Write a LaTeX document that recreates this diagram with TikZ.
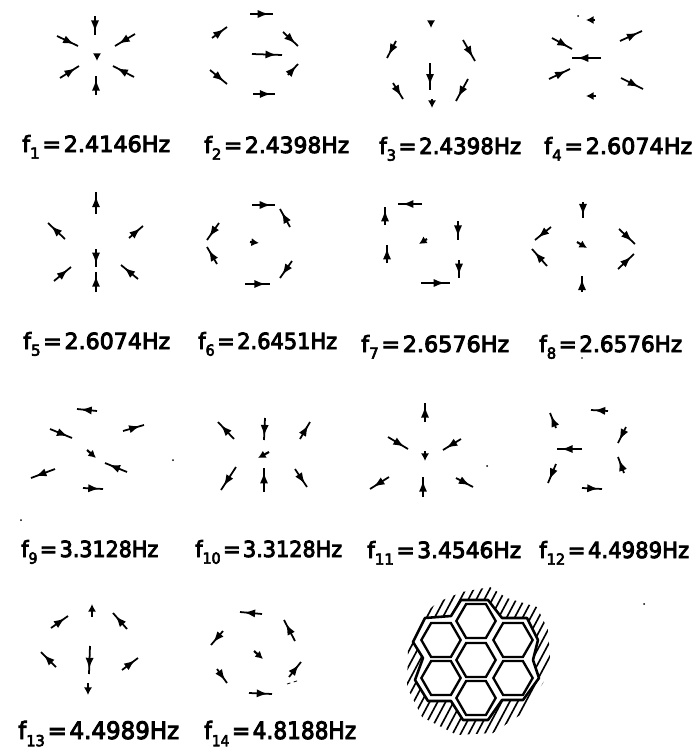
\documentclass[tikz,border=0pt]{standalone}
\usepackage{fontspec}
\usepackage{tikz}
\usetikzlibrary{shapes.geometric, arrows.meta, decorations.markings}
\newfontfamily\labfont[FakeBold=4]{DejaVu Sans}
\newlength{\pxu}
\setlength{\pxu}{0.03cm}
\newcommand{\flabel}[3]{\resizebox{#3\pxu}{\height}{f\raisebox{-0.3em}{\fontsize{13}{13}\selectfont #1}\kern0.12em=\kern0.12em#2Hz}}
\tikzstyle{vec} = [line width=1.5pt, postaction={decorate}, decoration={markings,
  mark=at position 0.82 with {\arrow{Latex[length=9.5pt,width=7pt]}}}]
\tikzstyle{tinyvec} = [line width=1.8pt, -{Latex[length=6.5pt,width=7pt]}]
\tikzstyle{flab} = [anchor=base west, inner sep=0pt, font=\labfont\fontsize{19}{19}\selectfont]
\tikzstyle{flabbig} = [anchor=base west, inner sep=0pt, font=\labfont\fontsize{20.5}{20.5}\selectfont]
\tikzstyle{hexcell} = [regular polygon, regular polygon sides=6, minimum size=1.18cm, inner sep=0pt,
  draw=black, fill=white, line width=2pt]

\begin{document}
\begin{tikzpicture}[x=0.03cm, y=-0.03cm]
  \useasboundingbox (0,0) rectangle (698,755);

  % f1
  \draw[vec] (95,16) -- (95,35);
  \draw[vec] (135,34) -- (115,46);
  \draw[vec] (57,36) -- (78,46);
  \draw[tinyvec] (97,54) -- (97,61);
  \draw[vec] (60,78) -- (79,66);
  \draw[vec] (134,77) -- (113,66);
  \draw[vec] (96,95) -- (96,76);

  % f2
  \draw[vec] (250,14) -- (273,14);
  \draw[vec] (283,32) -- (298,46);
  \draw[vec] (212,38) -- (227,27);
  \draw[vec] (252,54) -- (282,55);
  \draw[vec] (288,75) -- (298,64);
  \draw[vec] (210,70) -- (227,84);
  \draw[vec] (253,94) -- (275,94);

  % f3
  \draw[tinyvec] (431,21) -- (431,28);
  \draw[vec] (396,41) -- (387,58);
  \draw[vec] (463,40) -- (475,61);
  \draw[vec] (430,63) -- (430,90);
  \draw[tinyvec] (432,99) -- (432,108);
  \draw[vec] (393,83) -- (403,99);
  \draw[vec] (468,79) -- (456,101);

  % f4
  \draw[tinyvec] (595,20) -- (586,20);
  \draw[vec] (620,41) -- (642,31);
  \draw[vec] (552,38) -- (572,49);
  \draw[vec] (601,58) -- (572,58);
  \draw[vec] (549,79) -- (570,69);
  \draw[vec] (621,78) -- (643,89);
  \draw[tinyvec] (596,96) -- (586,96);

  % f5
  \draw[vec] (96,214) -- (96,192);
  \draw[vec] (65,239) -- (48,223);
  \draw[vec] (129,238) -- (143,226);
  \draw[vec] (96,249) -- (96,267);
  \draw[vec] (96,292) -- (96,272);
  \draw[vec] (54,281) -- (71,267);
  \draw[vec] (138,279) -- (121,265);

  % f6
  \draw[vec] (252,205) -- (275,205);
  \draw[vec] (290,227) -- (280,209);
  \draw[tinyvec] (250,242) -- (259,243);
  \draw[vec] (219,223) -- (207,240);
  \draw[vec] (217,264) -- (207,247);
  \draw[vec] (292,261) -- (280,278);
  \draw[vec] (245,284) -- (270,284);

  % f7
  \draw[vec] (422,204) -- (398,204);
  \draw[vec] (385,225) -- (385,207);
  \draw[vec] (387,263) -- (387,245);
  \draw[tinyvec] (427,239) -- (419,244);
  \draw[vec] (458,221) -- (458,240);
  \draw[vec] (459,260) -- (459,278);
  \draw[vec] (421,283) -- (450,283);

  % f8
  \draw[vec] (583,202) -- (583,218);
  \draw[vec] (551,227) -- (535,240);
  \draw[vec] (619,229) -- (635,244);
  \draw[tinyvec] (577,242) -- (587,248);
  \draw[vec] (547,266) -- (532,249);
  \draw[vec] (618,269) -- (634,254);
  \draw[vec] (582,292) -- (582,276);

  % f9
  \draw[vec] (97,411) -- (77,409);
  \draw[vec] (50,429) -- (72,438);
  \draw[vec] (123,431) -- (144,425);
  \draw[tinyvec] (87,450) -- (96,458);
  \draw[vec] (127,472) -- (105,463);
  \draw[vec] (55,469) -- (31,478);
  \draw[vec] (83,488) -- (103,489);

  % f10
  \draw[vec] (234,439) -- (218,422);
  \draw[vec] (265,418) -- (264,440);
  \draw[vec] (300,439) -- (310,422);
  \draw[tinyvec] (269,452) -- (258,458);
  \draw[vec] (236,467) -- (221,490);
  \draw[vec] (264,492) -- (264,468);
  \draw[vec] (295,469) -- (307,487);

  % f11
  \draw[vec] (425,422) -- (425,403);
  \draw[vec] (388,437) -- (408,449);
  \draw[vec] (461,439) -- (443,450);
  \draw[tinyvec] (425,451) -- (425,461);
  \draw[vec] (389,477) -- (370,489);
  \draw[vec] (456,478) -- (473,487);
  \draw[vec] (423,497) -- (423,477);

  % f12
  \draw[vec] (608,411) -- (591,410);
  \draw[vec] (556,428) -- (550,413);
  \draw[vec] (626,427) -- (618,443);
  \draw[vec] (582,449) -- (557,449);
  \draw[vec] (624,473) -- (618,457);
  \draw[vec] (556,464) -- (548,483);
  \draw[vec] (582,488) -- (602,489);

  % f13
  \draw[tinyvec] (92,617) -- (92,604);
  \draw[vec] (51,628) -- (68,616);
  \draw[vec] (127,629) -- (113,613);
  \draw[vec] (90,646) -- (89,674);
  \draw[vec] (56,667) -- (41,652);
  \draw[vec] (122,670) -- (138,658);
  \draw[tinyvec] (88,683) -- (88,695);

  % f14
  \draw[vec] (262,614) -- (240,612);
  \draw[vec] (295,641) -- (284,620);
  \draw[vec] (223,631) -- (211,645);
  \draw[tinyvec] (254,651) -- (263,659);
  \draw[vec] (289,677) -- (301,662);
  \draw[vec] (217,669) -- (227,683);
  \draw[vec] (249,693) -- (272,694);
  \draw[line width=0.7pt, dashed] (287,684) -- (300,680);

  % Specks
  \fill (578,16) circle (1);
  \fill (173,460) circle (1);
  \fill (21,520) circle (1);
  \fill (487,466) circle (1);
  \fill (582,358) circle (0.8);
  \fill (644,604) circle (1);

  % Frequencies
  \node (lf1) [flab] at (22,152) {\flabel{1}{2.4146}{148}};
  \node (lf2) [flab] at (204,153) {\flabel{2}{2.4398}{145}};
  \node (lf3) [flab] at (379,154) {\flabel{3}{2.4398}{142}};
  \node (lf4) [flab] at (544,154) {\flabel{4}{2.6074}{148}};
  \node (lf5) [flab] at (23,349) {\flabel{5}{2.6074}{147}};
  \node (lf6) [flab] at (198,349) {\flabel{6}{2.6451}{139}};
  \node (lf7) [flab] at (361,352) {\flabel{7}{2.6576}{148}};
  \node (lf8) [flab] at (539,352) {\flabel{8}{2.6576}{143}};
  \node (lf9) [flab] at (21,557) {\flabel{9}{3.3128}{137}};
  \node (lf10) [flab] at (195,557) {\flabel{10}{3.3128}{147}};
  \node (lf11) [flab] at (367,558) {\flabel{11}{3.4546}{154}};
  \node (lf12) [flab] at (539,558) {\flabel{12}{4.4989}{150}};
  \node (lf13) [flabbig] at (18,739) {\flabel{13}{4.4989}{161}};
  \node (lf14) [flabbig] at (204,739) {\flabel{14}{4.8188}{152}};

  % Hatching round the core
  \begin{scope}
    \clip (462,592) -- (490,587) -- (507,598) -- (537,607) -- (548,630) -- (550,657) -- (543,683)
      -- (523,713) -- (493,733) -- (457,735) -- (422,717) -- (407,687) -- (408,650) -- (425,613)
      -- (438,602) -- cycle;
    \foreach \k in {-12,...,12}
      \draw[line width=1.4pt] ({476+8*\k-40},735) -- ({476+8*\k+40},585);
  \end{scope}

  % Core outline
  \draw[line width=2.2pt, fill=white, line join=round] (461,600) -- (488,600) -- (502,618) -- (527,618)
    -- (538,640) -- (533,660) -- (539,678) -- (523,700) -- (502,700) -- (488,720) -- (463,720)
    -- (451,701) -- (428,701) -- (415,680) -- (423,658) -- (413,642) -- (425,618) -- (451,616) -- cycle;

  % Hexagonal cells
  \node (hextop) [hexcell] at (476,621) {};
  \node (hexul) [hexcell] at (441,640) {};
  \node (hexur) [hexcell] at (513,640) {};
  \node (hexmid) [hexcell] at (476,660) {};
  \node (hexll) [hexcell] at (441,678) {};
  \node (hexlr) [hexcell] at (513,678) {};
  \node (hexbot) [hexcell] at (476,698) {};
\end{tikzpicture}
\end{document}
